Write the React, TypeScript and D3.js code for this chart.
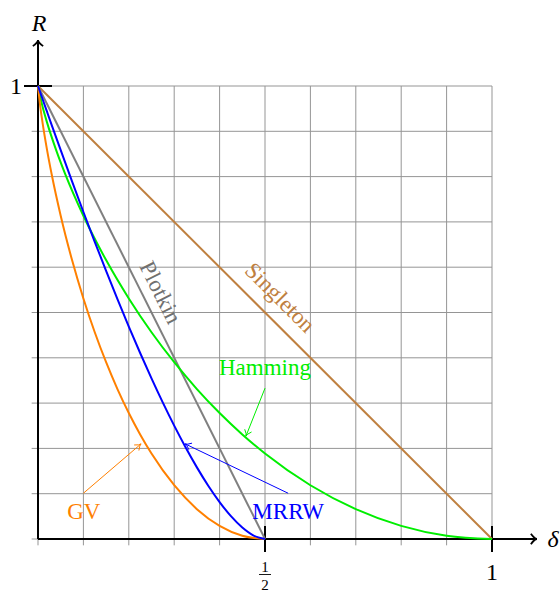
import * as d3 from 'd3'

// GV bound
const deltaGV = [0, 0.005, 0.01, 0.02, 0.03, 0.05, 0.075, 0.1, 0.125, 0.15, 0.175, 0.2, 0.225, 0.25, 0.3, 0.35, 0.4, 0.45, 0.5]
const rateGV = [1, 0.9546, 0.9192, 0.8586, 0.8056, 0.7136, 0.6157, 0.531, 0.4564, 0.3902, 0.331, 0.2781, 0.2308, 0.1887, 0.1187, 0.0659, 0.029, 0.0072, 0]

// Hamming bound (green)
const deltaHamming = [0, 0.01, 0.02, 0.04, 0.06, 0.1, 0.15, 0.2, 0.25, 0.3, 0.35, 0.4, 0.45, 0.5, 0.6, 0.7, 0.8, 0.9, 1]
const rateHamming = [1, 0.9546, 0.9192, 0.8586, 0.8056, 0.7136, 0.6157, 0.531, 0.4564, 0.3902, 0.331, 0.2781, 0.2308, 0.1887, 0.1187, 0.0659, 0.029, 0.0072, 0]

// MRRW bound (blue)
const deltaMRRW = [0, 0.005, 0.01, 0.02, 0.03, 0.05, 0.075, 0.1, 0.125, 0.15, 0.175, 0.2, 0.225, 0.25, 0.275, 0.3, 0.325, 0.35, 0.375, 0.4, 0.425, 0.45, 0.475, 0.5]
const rateMRRW = [1, 0.9856, 0.9712, 0.9427, 0.9143, 0.8583, 0.7894, 0.7219, 0.6561, 0.5919, 0.5295, 0.469, 0.4106, 0.3546, 0.301, 0.2502, 0.2025, 0.1581, 0.1176, 0.0815, 0.0504, 0.0253, 0.0076, 0]

// straight bounds
const deltaPlotkin = [0, 0.5]
const ratePlotkin = [1, 0]
const deltaSingleton = [0, 1]
const rateSingleton = [1, 0]

const gridSteps = d3.range(0, 11).map((i) => i / 10)

const W = 560
const H = 592
const FONT = '"Liberation Serif", "DejaVu Serif", serif'

const x = d3.scaleLinear().domain([0, 1]).range([38, 492])
const y = d3.scaleLinear().domain([0, 1]).range([539, 86])

type Pt = [number, number]

const zip = (xs: number[], ys: number[]): Pt[] => xs.map((d, i) => [d, ys[i]])

const line = d3
  .line<Pt>()
  .x((d) => x(d[0]))
  .y((d) => y(d[1]))
  .curve(d3.curveMonotoneX)

const curves = [
  { name: 'Singleton', color: '#bf8040', pts: zip(deltaSingleton, rateSingleton) },
  { name: 'Plotkin', color: '#808080', pts: zip(deltaPlotkin, ratePlotkin) },
  { name: 'Hamming', color: '#00ee00', pts: zip(deltaHamming, rateHamming) },
  { name: 'GV', color: '#ff8000', pts: zip(deltaGV, rateGV) },
  { name: 'MRRW', color: '#0000ff', pts: zip(deltaMRRW, rateMRRW) },
]

// label placement (data coords) and pointer arrows
const labels = [
  { text: 'Singleton', color: '#bf8040', at: [0.534, 0.534], angle: 45 },
  { text: 'Plotkin', color: '#707070', at: [0.271, 0.545], angle: 63.4 },
  { text: 'Hamming', color: '#00ee00', at: [0.5, 0.38], angle: 0 },
  { text: 'GV', color: '#ff8000', at: [0.101, 0.062], angle: 0 },
  { text: 'MRRW', color: '#0000ff', at: [0.551, 0.062], angle: 0 },
]

const pointers = [
  { color: '#ff8000', from: [0.1, 0.101], to: [0.227, 0.21] },
  { color: '#00ee00', from: [0.5, 0.333], to: [0.458, 0.227] },
  { color: '#0000ff', from: [0.551, 0.101], to: [0.324, 0.21] },
]

// V-shaped arrow head at (x2,y2)
function head(x1: number, y1: number, x2: number, y2: number, len: number, spread: number) {
  const a = Math.atan2(y2 - y1, x2 - x1)
  const p1 = [x2 - len * Math.cos(a - spread), y2 - len * Math.sin(a - spread)]
  const p2 = [x2 - len * Math.cos(a + spread), y2 - len * Math.sin(a + spread)]
  const cx = x2 - len * 0.3 * Math.cos(a)
  const cy = y2 - len * 0.3 * Math.sin(a)
  return `M${p1[0]},${p1[1]} Q${cx},${cy} ${x2},${y2} Q${cx},${cy} ${p2[0]},${p2[1]}`
}

export default function App() {
  const g0 = -0.014
  const xEnd = 537
  const yEnd = 40

  return (
    <svg
      width={W}
      height={H}
      style={{ position: 'absolute', left: 0, top: 0, display: 'block', background: '#fff' }}
      fontFamily={FONT}
    >
      {/* grid */}
      <g stroke="#959595" strokeWidth={1}>
        {gridSteps.map((t) => (
          <line key={'v' + t} x1={x(t)} x2={x(t)} y1={y(g0)} y2={y(1)} />
        ))}
        {gridSteps.map((t) => (
          <line key={'h' + t} x1={x(g0)} x2={x(1)} y1={y(t)} y2={y(t)} />
        ))}
      </g>

      {/* axes */}
      <g stroke="#000" strokeWidth={2} fill="none">
        <line x1={x(0)} x2={xEnd} y1={y(0)} y2={y(0)} />
        <line x1={x(0)} x2={x(0)} y1={y(0)} y2={yEnd} />
        <path d={head(x(0), y(0), xEnd, y(0), 8, 0.7)} strokeWidth={1.8} />
        <path d={head(x(0), y(0), x(0), yEnd, 8, 0.7)} strokeWidth={1.8} />
        <line x1={x(0.5)} x2={x(0.5)} y1={y(0) - 13} y2={y(0) + 13} />
        <line x1={x(1)} x2={x(1)} y1={y(0) - 13} y2={y(0) + 13} />
        <line x1={x(0) - 14} x2={x(0) + 14} y1={y(1)} y2={y(1)} />
      </g>

      {/* axis labels */}
      <text x={39} y={31} fontSize={24} fontStyle="italic" textAnchor="middle">R</text>
      <text x={553} y={547} fontSize={24} fontStyle="italic" textAnchor="middle">δ</text>
      <text x={16} y={94} fontSize={24} textAnchor="middle">1</text>
      <text x={x(1)} y={580} fontSize={24} textAnchor="middle">1</text>
      <text x={x(0.5)} y={572} fontSize={15} textAnchor="middle">1</text>
      <line x1={x(0.5) - 6} x2={x(0.5) + 6} y1={574.5} y2={574.5} stroke="#000" strokeWidth={0.9} />
      <text x={x(0.5)} y={590} fontSize={15} textAnchor="middle">2</text>

      {/* bounds */}
      {curves.map((c) => (
        <path key={c.name} d={line(c.pts) ?? ''} fill="none" stroke={c.color} strokeWidth={2} />
      ))}

      {/* pointers */}
      {pointers.map((p, i) => {
        const x1 = x(p.from[0])
        const y1 = y(p.from[1])
        const x2 = x(p.to[0])
        const y2 = y(p.to[1])
        return (
          <g key={i} stroke={p.color} fill="none" strokeWidth={1}>
            <line x1={x1} y1={y1} x2={x2} y2={y2} />
            <path d={head(x1, y1, x2, y2, 7, 0.55)} />
          </g>
        )
      })}

      {/* curve names */}
      {labels.map((l) => (
        <text
          key={l.text}
          transform={`translate(${x(l.at[0])},${y(l.at[1])}) rotate(${l.angle})`}
          fill={l.color}
          fontSize={23}
          textAnchor="middle"
          dy="0.35em"
        >
          {l.text}
        </text>
      ))}
    </svg>
  )
}
